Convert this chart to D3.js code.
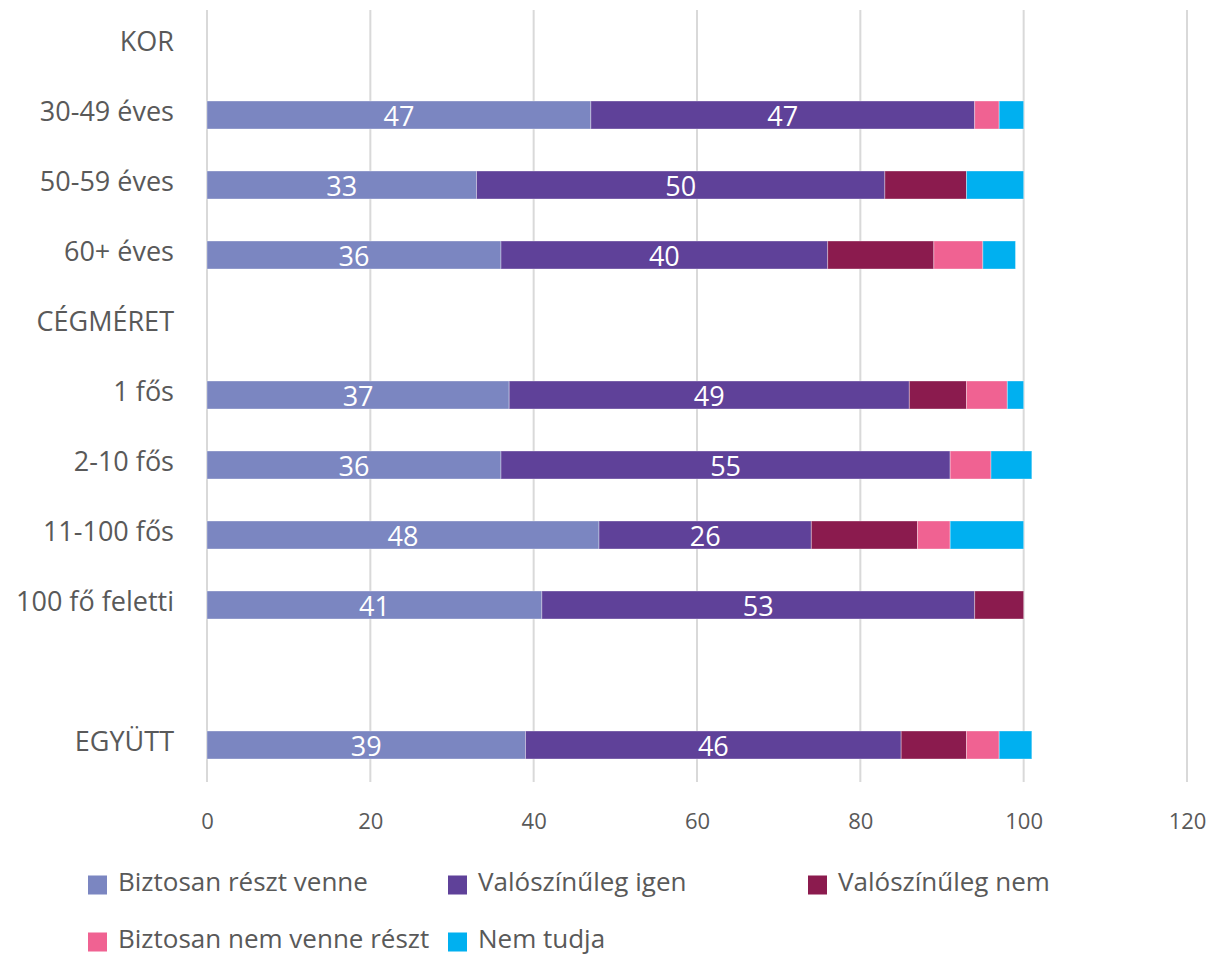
<!DOCTYPE html>
<html>
<head>
<meta charset="utf-8">
<script src="https://cdn.jsdelivr.net/npm/d3@7"></script>
<style>
  html, body { margin: 0; padding: 0; background: #fff; }
  svg { display: block; font-family: "Open Sans", "Noto Sans", sans-serif; }
</style>
</head>
<body>
<svg id="chart" width="1209" height="957"></svg>
<script>
// Row labels (blank rows act as group headers / spacers)
const categories = ["KOR", "30-49 éves", "50-59 éves", "60+ éves", "CÉGMÉRET",
  "1 fős", "2-10 fős", "11-100 fős", "100 fő feletti", "", "EGYÜTT"];

// Series values, percent
const biztosanReszt   = [0, 47, 33, 36, 0, 37, 36, 48, 41, 0, 39];
const valoszinuIgen   = [0, 47, 50, 40, 0, 49, 55, 26, 53, 0, 46];
const valoszinuNem    = [0,  0, 10, 13, 0,  7,  0, 13,  6, 0,  8];
const biztosanNem     = [0,  3,  0,  6, 0,  5,  5,  4,  0, 0,  4];
const nemTudja        = [0,  3,  7,  4, 0,  2,  5,  9,  0, 0,  4];

const seriesNames = ["Biztosan részt venne", "Valószínűleg igen", "Valószínűleg nem",
  "Biztosan nem venne részt", "Nem tudja"];
const seriesColors = ["#7b86c1", "#5f4199", "#8b1b4e", "#f06292", "#00b0f0"];
const xTicks = [0, 20, 40, 60, 80, 100, 120];
// Only the two large segments carry a value label
const labelledSeries = [0, 1];

const rows = categories.map((c, i) => ({
  key: "r" + i, label: c,
  s0: biztosanReszt[i], s1: valoszinuIgen[i], s2: valoszinuNem[i],
  s3: biztosanNem[i], s4: nemTudja[i]
}));

const svg = d3.select("#chart");
const textColor = "#595959";

const x = d3.scaleLinear().domain([0, 120]).range([207, 1187]);
const y = d3.scaleBand().domain(rows.map(r => r.key)).range([10, 780])
  .paddingInner(0.6).paddingOuter(0.3);

// Vertical gridlines
svg.append("g").selectAll("line").data(xTicks).join("line")
  .attr("x1", d => x(d)).attr("x2", d => x(d))
  .attr("y1", 10).attr("y2", 782)
  .attr("stroke", "#d9d9d9").attr("stroke-width", 2);

// X axis labels
const xAxis = d3.axisBottom(x).tickValues(xTicks).tickSize(0).tickPadding(0);
const gx = svg.append("g").attr("transform", "translate(0,813)").call(xAxis);
gx.select(".domain").remove();
gx.selectAll("text").attr("fill", textColor).attr("font-size", 22)
  .attr("font-family", "'Open Sans', sans-serif");

// Category labels
const yAxis = d3.axisLeft(y).tickFormat((k, i) => categories[i]).tickSize(0).tickPadding(0);
const gy = svg.append("g").attr("transform", "translate(174,0)").call(yAxis);
gy.select(".domain").remove();
gy.selectAll("text").attr("fill", textColor).attr("font-size", 27)
  .attr("font-family", "'Open Sans', sans-serif").attr("dy", "0.24em");

// Stacked bars
const stack = d3.stack().keys(["s0", "s1", "s2", "s3", "s4"]);
const stacked = stack(rows);

const layers = svg.append("g").selectAll("g").data(stacked).join("g")
  .attr("fill", (d, i) => seriesColors[i]);

layers.selectAll("rect").data(d => d.filter(p => p[1] - p[0] > 0)).join("rect")
  .attr("x", p => x(p[0]))
  .attr("y", p => y(p.data.key))
  .attr("width", p => x(p[1]) - x(p[0]))
  .attr("height", y.bandwidth())
  .attr("stroke", "rgba(255,255,255,0.35)")
  .attr("stroke-width", 1);

// Value labels
stacked.forEach((layer, i) => {
  if (!labelledSeries.includes(i)) return;
  svg.append("g").selectAll("text").data(layer.filter(p => p[1] - p[0] > 0)).join("text")
    .attr("x", p => x((p[0] + p[1]) / 2))
    .attr("y", p => y(p.data.key) + y.bandwidth() / 2)
    .attr("dy", "0.4em")
    .attr("text-anchor", "middle")
    .attr("fill", "#ffffff")
    .attr("font-size", 27)
    .text(p => p[1] - p[0]);
});

// Legend
const legendItems = [
  { i: 0, x: 88,  y: 885 },
  { i: 1, x: 448, y: 885 },
  { i: 2, x: 808, y: 885 },
  { i: 3, x: 88,  y: 942 },
  { i: 4, x: 448, y: 942 }
];
const lg = svg.append("g").selectAll("g").data(legendItems).join("g")
  .attr("transform", d => `translate(${d.x},${d.y})`);
lg.append("rect").attr("x", 0).attr("y", -9.5).attr("width", 19).attr("height", 19)
  .attr("fill", d => seriesColors[d.i]);
lg.append("text").attr("x", 30).attr("y", 6)
  .attr("fill", textColor).attr("font-size", 26)
  .text(d => seriesNames[d.i]);
</script>
</body>
</html>
